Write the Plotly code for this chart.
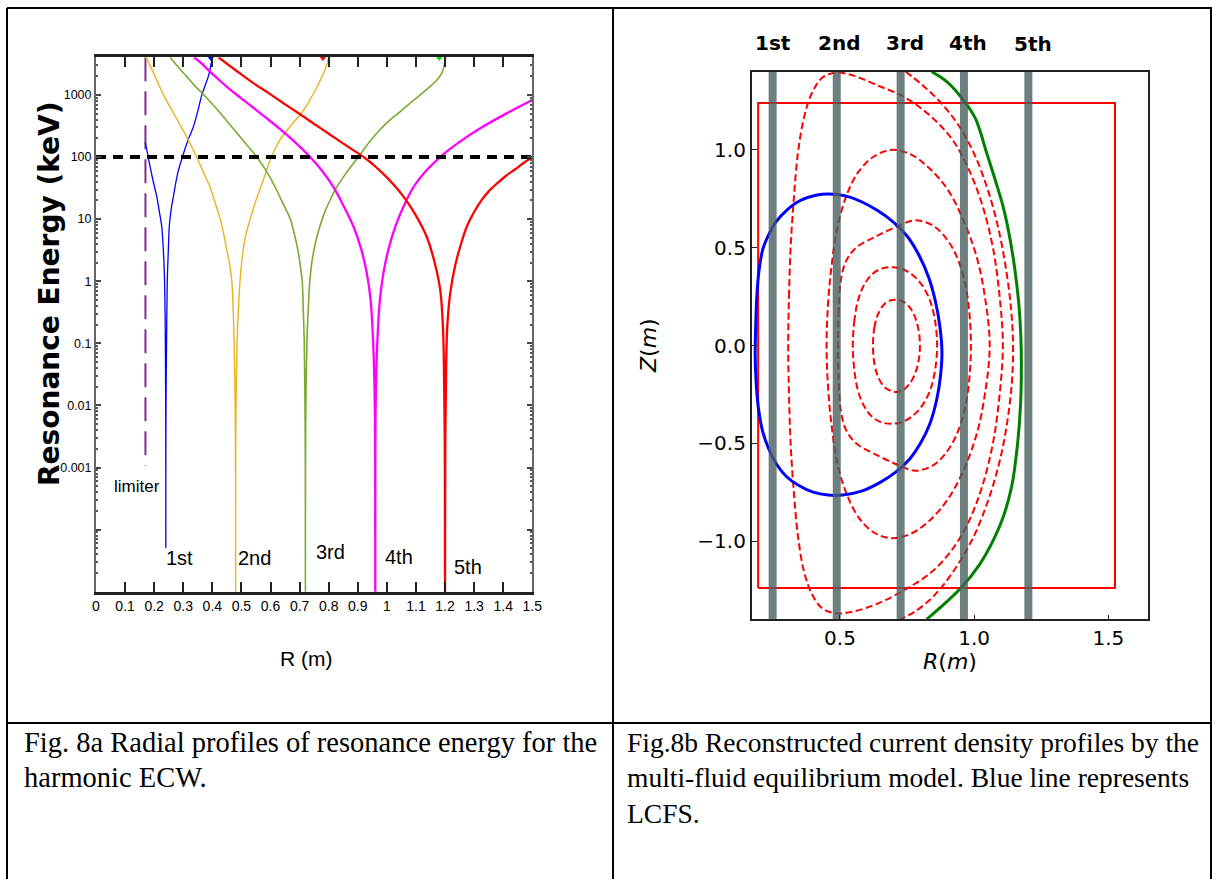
import plotly.graph_objects as go

W, H = 1212, 879

# ---------------- Fig. 8a : resonance energy vs R (log scale) ----------------
h1_R = [0.169, 0.178, 0.186, 0.197, 0.209, 0.218, 0.226, 0.231, 0.235, 0.2375, 0.2385, 0.2395, 0.2399, 0.2400,
        0.2401, 0.2407, 0.2425, 0.245, 0.2485, 0.252, 0.259, 0.266, 0.281, 0.297, 0.315, 0.335, 0.350, 0.364, 0.377, 0.386, 0.393, 0.398, 0.400]
h1_E = [170, 110, 70, 40, 23, 13, 7.6, 3.5, 1.35, 0.3, 0.1, 0.01, 0.001, 5e-5,
        0.001, 0.01, 0.1, 1, 3, 7.6, 15, 23, 55, 100, 180, 309, 550, 1000, 1500, 1970, 2700, 3600, 4040]

h2_R = [0.172, 0.190, 0.210, 0.232, 0.260, 0.289, 0.318, 0.346, 0.370, 0.392, 0.410, 0.427, 0.440, 0.450, 0.460, 0.467, 0.472, 0.475, 0.4785, 0.4797, 0.4800,
        0.4803, 0.4815, 0.485, 0.489, 0.495, 0.503, 0.515, 0.530, 0.550, 0.573, 0.603, 0.633, 0.665, 0.702, 0.728, 0.748, 0.768, 0.782, 0.793, 0.800]
h2_E = [4040, 2700, 1700, 1000, 580, 329, 185, 100, 56, 33, 18, 10, 5.5, 3.2, 1.8, 1, 0.3, 0.1, 0.01, 0.001, 1e-5,
        0.001, 0.01, 0.1, 0.3, 1, 2.5, 5.5, 10, 20, 40, 100, 190, 300, 480, 720, 1060, 1600, 2230, 3000, 4040]

h3_R = [0.255, 0.280, 0.312, 0.340, 0.371, 0.420, 0.466, 0.510, 0.553, 0.590, 0.620, 0.645, 0.668, 0.683, 0.695, 0.703, 0.709, 0.713, 0.716, 0.7185, 0.7197, 0.7200,
        0.7203, 0.7215, 0.725, 0.729, 0.735, 0.742, 0.750, 0.760, 0.771, 0.785, 0.800, 0.822, 0.860, 0.902, 0.940, 0.977, 1.012, 1.046, 1.080, 1.115, 1.145, 1.172, 1.188, 1.195, 1.199, 1.200]
h3_E = [4040, 2900, 1970, 1400, 1000, 560, 309, 175, 100, 55, 30, 17, 10, 5.5, 3, 1.7, 1, 0.3, 0.1, 0.01, 0.001, 1e-5,
        0.001, 0.01, 0.1, 0.3, 1, 2, 3.3, 5.3, 8, 12.5, 18, 29.5, 55, 100, 175, 278, 400, 540, 740, 1000, 1320, 1740, 2200, 2700, 3400, 4040]

h4_R = [0.337, 0.360, 0.392, 0.420, 0.450, 0.495, 0.541, 0.587, 0.633, 0.685, 0.736, 0.777, 0.816, 0.852, 0.885, 0.910, 0.931, 0.944, 0.953, 0.9585, 0.9597, 0.9600,
        0.9603, 0.9615, 0.967, 0.976, 0.988, 1.005, 1.029, 1.060, 1.092, 1.135, 1.183, 1.250, 1.321, 1.410, 1.500]
h4_E = [4040, 3300, 2370, 1800, 1350, 915, 621, 421, 281, 172, 100, 60, 33, 16, 7.6, 3.5, 1.35, 0.5, 0.1, 0.01, 0.001, 1e-5,
        0.001, 0.01, 0.1, 0.5, 1.35, 3.2, 7.6, 17, 33, 60, 100, 175, 290, 500, 830]

h5_R = [0.421, 0.480, 0.541, 0.590, 0.633, 0.690, 0.748, 0.805, 0.862, 0.920, 0.960, 1.000, 1.035, 1.069, 1.105, 1.137, 1.162, 1.183, 1.192, 1.196, 1.199, 1.200,
        1.201, 1.204, 1.208, 1.218, 1.235, 1.255, 1.275, 1.300, 1.325, 1.350, 1.380, 1.410, 1.440, 1.470, 1.500]
h5_E = [4040, 2500, 1550, 1100, 800, 530, 347, 229, 151, 100, 71, 47, 31, 19.3, 10.4, 5.2, 2.2, 0.75, 0.22, 0.05, 0.003, 1e-5,
        0.003, 0.05, 0.2, 0.65, 1.8, 4, 7.6, 13, 20, 28, 38, 50, 63, 80, 100]

limiter_R = [0.17, 0.17]
limiter_E = [4040, 0.00107]
ref_R = [0.0, 1.5]
ref_E = [100, 100]
top_mark_R = [0.395, 0.78, 1.18]
top_mark_E = [4000, 4000, 4000]

harm_labels_a = ["1st", "2nd", "3rd", "4th", "5th"]
xticks_a = [0, 0.1, 0.2, 0.3, 0.4, 0.5, 0.6, 0.7, 0.8, 0.9, 1.0, 1.1, 1.2, 1.3, 1.4, 1.5]
xtext_a = ["0", "0.1", "0.2", "0.3", "0.4", "0.5", "0.6", "0.7", "0.8", "0.9", "1", "1.1", "1.2", "1.3", "1.4", "1.5"]
yticks_a = [1e-5, 1e-4, 1e-3, 1e-2, 1e-1, 1, 10, 100, 1000]
ytext_a = ["", "", "0.001", "0.01", "0.1", "1", "10", "100", "1000"]
yminor_a = [2e-5, 3e-5, 4e-5, 5e-5, 6e-5, 7e-5, 8e-5, 9e-5, 2e-4, 3e-4, 4e-4, 5e-4, 6e-4, 7e-4, 8e-4, 9e-4,
            2e-3, 3e-3, 4e-3, 5e-3, 6e-3, 7e-3, 8e-3, 9e-3, 0.02, 0.03, 0.04, 0.05, 0.06, 0.07, 0.08, 0.09,
            0.2, 0.3, 0.4, 0.5, 0.6, 0.7, 0.8, 0.9, 2, 3, 4, 5, 6, 7, 8, 9, 20, 30, 40, 50, 60, 70, 80, 90,
            200, 300, 400, 500, 600, 700, 800, 900, 2000, 3000, 4000]

# ---------------- Fig. 8b : equilibrium (R, Z) ----------------
lcfs_R = [0.184, 0.186, 0.190, 0.198, 0.212, 0.232, 0.260, 0.300, 0.350, 0.410, 0.460, 0.520, 0.580, 0.640, 0.700, 0.750, 0.795, 0.830, 0.855, 0.872, 0.880,
          0.875, 0.860, 0.835, 0.800, 0.760, 0.710, 0.650, 0.580, 0.510, 0.455, 0.400, 0.345, 0.300, 0.265, 0.235, 0.212, 0.197, 0.188, 0.184]
lcfs_Z = [-0.05, 0.10, 0.25, 0.38, 0.49, 0.56, 0.63, 0.69, 0.74, 0.768, 0.775, 0.765, 0.735, 0.69, 0.63, 0.56, 0.46, 0.35, 0.23, 0.10, -0.03,
          -0.15, -0.28, -0.40, -0.50, -0.58, -0.645, -0.70, -0.745, -0.765, -0.765, -0.75, -0.715, -0.67, -0.61, -0.53, -0.44, -0.33, -0.20, -0.05]

sep_R = [0.842, 0.900, 0.960, 1.005, 1.047, 1.080, 1.108, 1.133, 1.152, 1.166, 1.174, 1.176, 1.173, 1.162, 1.140, 1.110, 1.072, 1.020, 0.953, 0.890, 0.823]
sep_Z = [1.40, 1.347, 1.255, 1.16, 0.983, 0.84, 0.71, 0.55, 0.386, 0.22, 0.05, -0.10, -0.30, -0.50, -0.72, -0.87, -0.994, -1.12, -1.236, -1.32, -1.40]

cA_R = [0.623, 0.628, 0.642, 0.664, 0.690, 0.712, 0.735, 0.760, 0.781, 0.794, 0.798, 0.794, 0.781, 0.760, 0.735, 0.712, 0.690, 0.664, 0.642, 0.628, 0.623]
cA_Z = [0.0, 0.09, 0.16, 0.21, 0.231, 0.233, 0.225, 0.195, 0.14, 0.07, 0.0, -0.07, -0.14, -0.195, -0.228, -0.238, -0.232, -0.21, -0.16, -0.09, 0.0]
cB_R = [0.548, 0.553, 0.567, 0.590, 0.620, 0.655, 0.695, 0.735, 0.775, 0.810, 0.838, 0.855, 0.862, 0.855, 0.838, 0.810, 0.775, 0.735, 0.695, 0.655, 0.620, 0.590, 0.567, 0.553, 0.548]
cB_Z = [0.0, 0.12, 0.23, 0.31, 0.365, 0.393, 0.40, 0.39, 0.355, 0.30, 0.22, 0.12, 0.0, -0.12, -0.22, -0.30, -0.355, -0.39, -0.40, -0.393, -0.365, -0.31, -0.23, -0.12, 0.0]
cC_R = [0.493, 0.495, 0.503, 0.522, 0.560, 0.630, 0.710, 0.780, 0.850, 0.910, 0.950, 0.975, 0.988,
        0.975, 0.950, 0.910, 0.850, 0.780, 0.710, 0.630, 0.560, 0.522, 0.503, 0.495, 0.493]
cC_Z = [0.0, 0.16, 0.33, 0.43, 0.50, 0.555, 0.607, 0.64, 0.61, 0.52, 0.40, 0.25, 0.0,
        -0.25, -0.40, -0.52, -0.61, -0.64, -0.607, -0.555, -0.50, -0.43, -0.33, -0.16, 0.0]
cD_R = [0.450, 0.455, 0.468, 0.490, 0.525, 0.570, 0.625, 0.690, 0.760, 0.830, 0.900, 0.960, 1.010, 1.040, 1.058,
        1.040, 1.010, 0.960, 0.900, 0.830, 0.760, 0.690, 0.625, 0.570, 0.525, 0.490, 0.468, 0.455, 0.450]
cD_Z = [0.0, 0.20, 0.40, 0.60, 0.77, 0.89, 0.965, 1.0, 0.98, 0.91, 0.80, 0.64, 0.45, 0.25, 0.0,
        -0.25, -0.45, -0.64, -0.79, -0.90, -0.965, -0.985, -0.955, -0.88, -0.76, -0.60, -0.40, -0.20, 0.0]
cE_R = [0.307, 0.310, 0.316, 0.328, 0.343, 0.365, 0.395, 0.435, 0.485, 0.550, 0.640, 0.740, 0.840, 0.920, 0.980, 1.030, 1.070, 1.095, 1.107,
        1.095, 1.070, 1.030, 0.980, 0.920, 0.840, 0.740, 0.640, 0.550, 0.490, 0.435, 0.395, 0.365, 0.343, 0.328, 0.316, 0.310, 0.307]
cE_Z = [0.0, 0.25, 0.50, 0.75, 0.98, 1.16, 1.29, 1.37, 1.395, 1.38, 1.33, 1.27, 1.17, 1.05, 0.90, 0.72, 0.50, 0.25, 0.0,
        -0.25, -0.50, -0.72, -0.90, -1.04, -1.16, -1.25, -1.32, -1.36, -1.37, -1.345, -1.27, -1.15, -0.97, -0.75, -0.50, -0.25, 0.0]
cF_R = [0.745, 0.800, 0.870, 0.940, 1.000, 1.050, 1.090, 1.120, 1.138, 1.145, 1.140, 1.120, 1.090, 1.045, 0.990, 0.920, 0.850, 0.780, 0.724]
cF_Z = [1.40, 1.34, 1.25, 1.13, 0.98, 0.80, 0.60, 0.38, 0.18, 0.0, -0.20, -0.42, -0.62, -0.82, -1.00, -1.16, -1.28, -1.36, -1.40]
contours = [(cA_R, cA_Z), (cB_R, cB_Z), (cC_R, cC_Z), (cD_R, cD_Z), (cE_R, cE_Z), (cF_R, cF_Z)]

limbox_R = [0.195, 1.525, 1.525, 0.195, 0.195]
limbox_Z = [-1.24, -1.24, 1.24, 1.24, -1.24]

band_R = [0.249, 0.488, 0.726, 0.962, 1.202]
band_Z = [-1.4, 1.4]
harm_labels_b = ["1st", "2nd", "3rd", "4th", "5th"]
xticks_b = [0.5, 1.0, 1.5]
xtext_b = ["0.5", "1.0", "1.5"]
yticks_b = [-1.0, -0.5, 0.0, 0.5, 1.0]
ytext_b = ["\u22121.0", "\u22120.5", "0.0", "0.5", "1.0"]

captions_a = ["Fig. 8a Radial profiles of resonance energy for the", "harmonic ECW."]
captions_b = ["Fig.8b Reconstructed current density profiles by the",
              "multi-fluid equilibrium model. Blue line represents", "LCFS."]

# ---------------- helpers ----------------
def px(x):
    return x / W

def py(y):
    return 1 - y / H

SANS = "Liberation Sans, Arial, sans-serif"
DJ = "DejaVu Sans, sans-serif"
SERIF = "Liberation Serif, Times New Roman, serif"

fig = go.Figure()

# ---- panel a traces
fig.add_trace(go.Scatter(x=limiter_R, y=limiter_E, mode="lines", xaxis="x", yaxis="y",
                         line=dict(color="#7E2F8E", width=2, dash="24px,10px")))
curves_a = [(h1_R, h1_E, "#0000ff", 1.3), (h2_R, h2_E, "#EDB120", 1.4), (h3_R, h3_E, "#77AC30", 1.6),
            (h4_R, h4_E, "#ff00ff", 2.3), (h5_R, h5_E, "#ff0000", 2.3)]
for r, e, c, w in curves_a:
    fig.add_trace(go.Scatter(x=r, y=e, mode="lines", xaxis="x", yaxis="y",
                             line=dict(color=c, width=w, shape="spline", smoothing=1.0)))
fig.add_trace(go.Scatter(x=ref_R, y=ref_E, mode="lines", xaxis="x", yaxis="y",
                         line=dict(color="black", width=4, dash="10px,7px")))
fig.add_trace(go.Scatter(x=top_mark_R, y=top_mark_E, mode="markers", xaxis="x", yaxis="y", cliponaxis=False,
                         marker=dict(symbol="triangle-down", size=7, color=["#0000ff", "#ff0000", "#00dd00"])))

# ---- panel b traces
fig.add_trace(go.Scatter(x=limbox_R, y=limbox_Z, mode="lines", xaxis="x2", yaxis="y2",
                         line=dict(color="#ff0000", width=2)))
for r, z in contours:
    fig.add_trace(go.Scatter(x=r, y=z, mode="lines", xaxis="x2", yaxis="y2",
                             line=dict(color="#ff0000", width=2, dash="7px,3.5px", shape="spline", smoothing=1.0)))
fig.add_trace(go.Scatter(x=lcfs_R, y=lcfs_Z, mode="lines", xaxis="x2", yaxis="y2",
                         line=dict(color="#0000ff", width=3, shape="spline", smoothing=1.0)))
fig.add_trace(go.Scatter(x=sep_R, y=sep_Z, mode="lines", xaxis="x2", yaxis="y2",
                         line=dict(color="#008000", width=3, shape="spline", smoothing=1.0)))
for b in band_R:
    fig.add_trace(go.Scatter(x=[b, b], y=band_Z, mode="lines", xaxis="x2", yaxis="y2",
                             line=dict(color="rgba(74,95,96,0.8)", width=8)))

# ---- axes
fig.update_layout(
    width=W, height=H, autosize=False,
    margin=dict(l=0, r=0, t=0, b=0, pad=0, autoexpand=False),
    paper_bgcolor="white", plot_bgcolor="white", showlegend=False,
    xaxis=dict(domain=[px(96), px(532.3)], range=[0, 1.5], anchor="y",
               tickmode="array", tickvals=xticks_a, ticktext=xtext_a,
               ticks="inside", ticklen=10, tickwidth=1.5, tickcolor="#222",
               showline=True, linecolor="#222", linewidth=2.5, mirror="ticks",
               showgrid=False, zeroline=False,
               tickfont=dict(family=SANS, size=14, color="black")),
    yaxis=dict(domain=[py(591.7), py(57.3)], type="log", range=[-5, 3.606], anchor="x",
               tickmode="array", tickvals=yticks_a, ticktext=ytext_a,
               ticks="inside", ticklen=5, tickwidth=2, tickcolor="#444",
               showline=True, linecolor="#666", linewidth=2, mirror="ticks",
               showgrid=False, zeroline=False,
               minor=dict(tickmode="array", tickvals=yminor_a, ticks="inside", ticklen=2, tickcolor="#555", showgrid=False),
               tickfont=dict(family=SANS, size=12.5, color="black")),
    xaxis2=dict(domain=[px(751.7), px(1148.3)], range=[0.171, 1.649], anchor="y2",
                tickmode="array", tickvals=xticks_b, ticktext=xtext_b,
                ticks="inside", ticklen=5, tickwidth=1.3, tickcolor="#222",
                showline=True, linecolor="#222", linewidth=1.6, mirror=True,
                showgrid=False, zeroline=False,
                tickfont=dict(family=DJ, size=20, color="black")),
    yaxis2=dict(domain=[py(619.3), py(71.7)], range=[-1.4, 1.4], anchor="x2",
                tickmode="array", tickvals=yticks_b, ticktext=ytext_b,
                ticks="inside", ticklen=5, tickwidth=1.3, tickcolor="#222",
                showline=True, linecolor="#222", linewidth=1.6, mirror=True,
                showgrid=False, zeroline=False,
                tickfont=dict(family=DJ, size=20, color="black")),
)

ann = []
# panel a texts
ann.append(dict(x=px(137), y=py(487), text="limiter", font=dict(family=SANS, size=17)))
for t, (x, y) in zip(harm_labels_a, [(179, 558), (254, 558), (330, 552), (399, 557), (468, 567)]):
    ann.append(dict(x=px(x), y=py(y), text=t, font=dict(family=SANS, size=20)))
ann.append(dict(x=px(306), y=py(658), text="R (m)", font=dict(family=SANS, size=21)))
ann.append(dict(x=px(49), y=py(294), text="Resonance Energy (keV)", textangle=-90,
                font=dict(family=DJ, size=28, weight="bold")))
# panel b texts
for t, (x, y) in zip(harm_labels_b, [(773, 43), (839, 43), (905, 43), (968, 43), (1033, 44)]):
    ann.append(dict(x=px(x), y=py(y), text=t, font=dict(family=DJ, size=20, weight="bold")))
ann.append(dict(x=px(950), y=py(661), text="<i>R</i>(<i>m</i>)", font=dict(family=DJ, size=22)))
ann.append(dict(x=px(648), y=py(346), text="<i>Z</i>(<i>m</i>)", textangle=-90, font=dict(family=DJ, size=22)))
for a in ann:
    a.update(xref="paper", yref="paper", showarrow=False, xanchor="center", yanchor="middle")
    a["font"]["color"] = "black"
# captions
for i, t in enumerate(captions_a):
    ann.append(dict(x=px(22), y=py(742 + 35.5 * i), text=t, xref="paper", yref="paper", showarrow=False,
                    xanchor="left", yanchor="middle", font=dict(family=SERIF, size=28.5, color="black")))
for i, t in enumerate(captions_b):
    ann.append(dict(x=px(625), y=py(742 + 35.5 * i), text=t, xref="paper", yref="paper", showarrow=False,
                    xanchor="left", yanchor="middle", font=dict(family=SERIF, size=27.5, color="black")))
fig.update_layout(annotations=ann)

# table frame
shapes = []
for (x0, y0, x1, y1) in [(7, 8, 1212, 8), (7, 8, 7, 879), (613, 8, 613, 879), (7, 723, 1212, 723), (1211, 8, 1211, 879)]:
    shapes.append(dict(type="line", xref="paper", yref="paper", x0=px(x0), y0=py(y0), x1=px(x1), y1=py(y1),
                       line=dict(color="black", width=2)))
fig.update_layout(shapes=shapes)

fig.write_html("out.html", config={"displayModeBar": False},
               post_script="document.body.style.margin='0';document.body.style.overflow='hidden';")
